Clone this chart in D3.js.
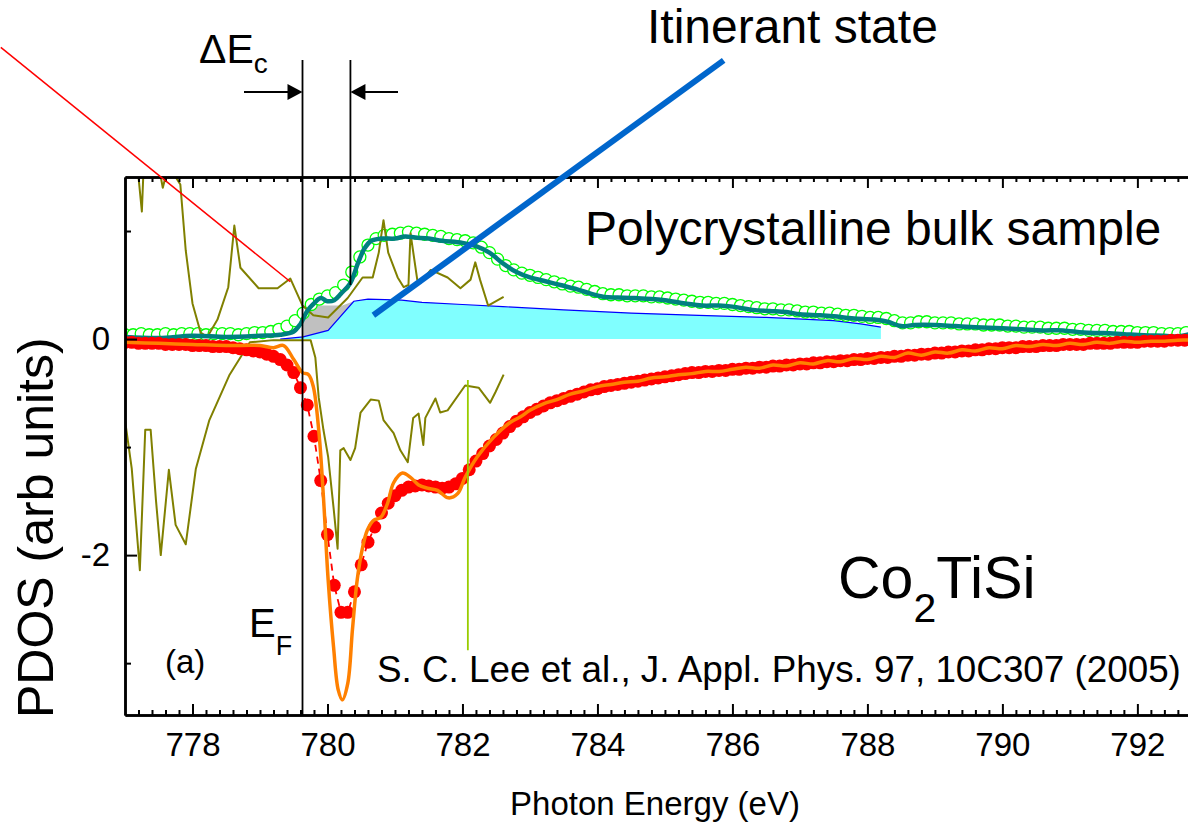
<!DOCTYPE html>
<html>
<head>
<meta charset="utf-8">
<script src="https://cdn.jsdelivr.net/npm/d3@7"></script>
<style>
  body { margin: 0; background: #fff; }
  text { font-family: "Liberation Sans", Arial, Helvetica, sans-serif; fill: #000; }
</style>
</head>
<body>
<svg id="chart" width="1188" height="829"></svg>
<script>
// ---- data (energy in eV, PDOS in arb. units) ----

var xMajor = [778, 780, 782, 784, 786, 788, 790, 792];
var yLabelled = [0, -2];
var yMinor = [1, -1, -3];

var EF = 779.63;      // Fermi edge marker
var EC = 780.34;      // second marker of Delta E_c
var ELINE = 782.08;   // yellow-green marker

// open green circles, sampled every 0.12 eV from 777
var circV = [0.04,0.04,0.05,0.04,0.04,0.05,0.04,0.05,0.05,0.05,
  0.04,0.05,0.05,0.05,0.04,0.05,0.06,0.06,0.07,0.09,
  0.12,0.17,0.24,0.32,0.37,0.40,0.43,0.50,0.62,0.76,
  0.87,0.93,0.96,0.97,0.98,0.99,0.98,0.97,0.96,0.95,
  0.93,0.92,0.91,0.89,0.85,0.80,0.74,0.68,0.64,0.61,
  0.59,0.57,0.55,0.53,0.51,0.49,0.48,0.46,0.44,0.42,
  0.41,0.41,0.40,0.40,0.40,0.39,0.39,0.38,0.37,0.36,
  0.35,0.34,0.34,0.33,0.33,0.32,0.31,0.30,0.29,0.28,
  0.28,0.27,0.27,0.26,0.25,0.25,0.24,0.24,0.23,0.22,
  0.22,0.21,0.20,0.20,0.19,0.17,0.15,0.15,0.16,0.16,
  0.15,0.15,0.15,0.14,0.14,0.14,0.13,0.13,0.13,0.12,
  0.12,0.11,0.11,0.11,0.10,0.10,0.10,0.09,0.09,0.08,
  0.08,0.08,0.07,0.07,0.07,0.06,0.06,0.06,0.05,0.05,
  0.05,0.06];

// teal line through the circles
var tealLine = [[777.0,0.02],[777.5,0.01],[778.0,0.03],[778.5,0.02],[779.0,0.03],[779.3,0.04],
  [779.5,0.07],[779.6,0.14],[779.7,0.26],[779.8,0.33],[779.9,0.38],[780.0,0.35],[780.1,0.36],
  [780.2,0.42],[780.34,0.52],[780.45,0.70],[780.55,0.84],[780.65,0.91],[780.8,0.93],[781.0,0.93],
  [781.15,0.95],[781.3,0.94],[781.5,0.93],[781.7,0.91],[782.0,0.89],[782.2,0.86],[782.4,0.80],
  [782.6,0.70],[782.8,0.62],[783.0,0.57],[783.2,0.54],[783.45,0.50],[783.7,0.46],[783.9,0.42],
  [784.1,0.39],[784.3,0.385],[784.55,0.38],[784.8,0.37],[785.0,0.36],[785.3,0.33],[785.55,0.31],
  [785.8,0.31],[786.0,0.30],[786.3,0.27],[786.55,0.26],[786.8,0.25],[787.0,0.23],[787.3,0.22],
  [787.5,0.21],[787.8,0.19],[788.1,0.18],[788.3,0.16],[788.5,0.12],[788.7,0.13],[789.0,0.13],
  [789.3,0.12],[789.6,0.11],[790.0,0.10],[790.3,0.09],[790.6,0.08],[790.9,0.08],[791.2,0.06],
  [791.5,0.055],[791.8,0.045],[792.1,0.035],[792.4,0.03],[792.6,0.025],[792.8,0.05]];

// filled red dots, sampled every 0.1 eV from 777
var dotV = [-0.03,-0.03,-0.04,-0.04,-0.04,-0.04,-0.05,-0.05,-0.05,-0.05,
  -0.06,-0.06,-0.06,-0.07,-0.07,-0.07,-0.08,-0.09,-0.10,-0.11,
  -0.12,-0.14,-0.16,-0.19,-0.24,-0.31,-0.45,-0.61,-0.90,-1.31,
  -1.81,-2.28,-2.53,-2.53,-2.34,-2.09,-1.88,-1.74,-1.61,-1.52,
  -1.45,-1.40,-1.37,-1.36,-1.35,-1.36,-1.37,-1.38,-1.37,-1.34,
  -1.29,-1.21,-1.13,-1.06,-0.99,-0.93,-0.87,-0.81,-0.76,-0.72,
  -0.68,-0.65,-0.62,-0.59,-0.57,-0.55,-0.53,-0.51,-0.49,-0.47,
  -0.46,-0.44,-0.43,-0.42,-0.41,-0.40,-0.39,-0.38,-0.37,-0.36,
  -0.35,-0.34,-0.33,-0.32,-0.31,-0.31,-0.30,-0.30,-0.29,-0.29,
  -0.28,-0.28,-0.27,-0.27,-0.26,-0.26,-0.25,-0.25,-0.24,-0.24,
  -0.23,-0.23,-0.22,-0.22,-0.21,-0.21,-0.20,-0.20,-0.19,-0.19,
  -0.18,-0.18,-0.17,-0.17,-0.16,-0.16,-0.15,-0.15,-0.14,-0.14,
  -0.13,-0.13,-0.12,-0.12,-0.11,-0.11,-0.10,-0.10,-0.09,-0.09,
  -0.08,-0.08,-0.08,-0.07,-0.07,-0.07,-0.06,-0.06,-0.06,-0.05,
  -0.05,-0.05,-0.05,-0.04,-0.04,-0.04,-0.04,-0.03,-0.03,-0.03,
  -0.03,-0.02,-0.02,-0.02,-0.02,-0.01,-0.01,-0.01,-0.01];

// orange fit through the red dots
var orangeLine = [[777.0,-0.03],[777.5,-0.04],[778.0,-0.05],[778.5,-0.06],[779.0,-0.06],[779.2,-0.08],
  [779.35,-0.06],[779.5,-0.19],[779.63,-0.31],[779.72,-0.33],[779.79,-0.44],[779.87,-0.84],
  [779.94,-1.46],[780.01,-2.23],[780.09,-2.85],[780.16,-3.25],[780.22,-3.34],[780.30,-3.19],
  [780.37,-2.69],[780.44,-2.23],[780.52,-1.93],[780.59,-1.77],[780.68,-1.68],[780.79,-1.65],
  [780.89,-1.52],[780.98,-1.33],[781.11,-1.24],[781.23,-1.28],[781.35,-1.35],[781.48,-1.38],
  [781.63,-1.40],[781.79,-1.47],[781.93,-1.43],[782.04,-1.28],[782.22,-1.09],[782.46,-0.91],
  [782.71,-0.77],[782.86,-0.72],[783.0,-0.66],[783.2,-0.60],[783.4,-0.56],[783.6,-0.51],
  [783.8,-0.48],[784.0,-0.44],[784.2,-0.42],[784.4,-0.40],[784.6,-0.39],[784.8,-0.36],
  [785.0,-0.35],[785.2,-0.33],[785.4,-0.32],[785.6,-0.30],[785.8,-0.30],[786.0,-0.28],
  [786.2,-0.26],[786.4,-0.27],[786.6,-0.24],[786.8,-0.25],[787.0,-0.22],[787.2,-0.23],
  [787.4,-0.20],[787.6,-0.21],[787.8,-0.18],[788.0,-0.19],[788.2,-0.16],[788.4,-0.17],
  [788.6,-0.13],[788.8,-0.15],[789.0,-0.12],[789.2,-0.13],[789.4,-0.10],[789.6,-0.11],
  [789.8,-0.08],[790.0,-0.09],[790.2,-0.06],[790.4,-0.07],[790.6,-0.05],[790.8,-0.06],
  [791.0,-0.04],[791.2,-0.05],[791.4,-0.03],[791.6,-0.04],[791.8,-0.02],[792.0,-0.03],
  [792.2,-0.02],[792.4,-0.02],[792.6,-0.01],[792.8,-0.01]];

// noisy olive traces
var oliveUp = [[777.15,1.62],[777.2,1.5],[777.25,1.18],[777.27,1.5],[777.3,1.62],[777.5,1.6],
  [777.53,1.5],[777.56,1.4],[777.6,1.5],[777.7,1.55],[777.82,1.43],[777.9,0.82],[778.0,0.33],
  [778.12,0.06],[778.22,0.02],[778.37,0.18],[778.53,0.48],[778.62,1.05],[778.71,0.66],
  [778.98,0.47],[779.26,0.47],[779.45,0.56],[779.63,0.31],[779.79,0.22],[780.01,0.20],
  [780.3,0.38],[780.52,0.57],[780.67,0.57],[780.76,0.80],[780.83,1.10],[780.9,0.80],
  [781.04,0.57],[781.13,0.48],[781.2,0.50],[781.23,0.98],[781.33,0.55],[781.38,0.52],
  [781.53,0.64],[781.78,0.57],[781.97,0.47],[782.12,0.55],[782.19,0.71],[782.26,0.55],
  [782.38,0.31],[782.61,0.39]];

var oliveLow = [[777.0,-0.75],[777.1,-1.2],[777.22,-2.14],[777.3,-0.84],[777.38,-0.84],
  [777.46,-1.5],[777.53,-2.0],[777.65,-1.21],[777.75,-1.72],[777.9,-1.9],[778.05,-1.2],
  [778.25,-0.75],[778.55,-0.33],[778.73,-0.15],[778.85,-0.03],[779.2,-0.01],[779.75,-0.01],
  [779.82,-0.17],[779.87,-0.54],[779.94,-0.84],[780.01,-1.09],[780.09,-1.56],[780.15,-1.94],
  [780.19,-1.03],[780.24,-1.01],[780.34,-1.12],[780.41,-1.01],[780.49,-0.68],[780.64,-0.56],
  [780.76,-0.57],[780.83,-0.75],[780.98,-0.87],[781.08,-1.03],[781.19,-1.14],[781.27,-0.73],
  [781.35,-0.69],[781.42,-0.98],[781.45,-0.73],[781.6,-0.55],[781.67,-0.68],[781.78,-0.66],
  [782.04,-0.43],[782.24,-0.45],[782.41,-0.59],[782.49,-0.49],[782.61,-0.33]];

// itinerant background (cyan) and localized part (grey)
var blueEdge = [[779.3,0.0],[779.64,0.02],[780.01,0.08],[780.39,0.35],[780.6,0.37],[781.1,0.36],
  [781.4,0.34],[782.0,0.32],[782.6,0.30],[783.5,0.27],[784.5,0.24],[785.5,0.22],[786.5,0.20],
  [787.5,0.17],[787.9,0.14],[788.2,0.11]];
var greyTop = [[779.64,0.31],[780.22,0.31],[780.39,0.35]];
var greyBottom = [[779.64,0.02],[780.01,0.08],[780.39,0.35]];

// ---- layout ----
var svg = d3.select("#chart");
var L = 125, R = 1188, T = 177, B = 715;

var x = d3.scaleLinear().domain([777, 792.75]).range([L, R]);
var y = d3.scaleLinear().domain([-3.48, 1.5]).range([B, T]);

svg.append("defs").append("clipPath").attr("id", "clip")
  .append("rect").attr("x", L).attr("y", T).attr("width", R - L).attr("height", B - T);

var g = svg.append("g").attr("clip-path", "url(#clip)");

var line = d3.line().x(function(d) { return x(d[0]); }).y(function(d) { return y(d[1]); });
var smooth = d3.line().curve(d3.curveCatmullRom.alpha(0.5))
  .x(function(d) { return x(d[0]); }).y(function(d) { return y(d[1]); });

// cyan area
g.append("path")
  .datum(blueEdge)
  .attr("fill", "#80ffff")
  .attr("d", d3.area().x(function(d) { return x(d[0]); }).y0(y(0)).y1(function(d) { return y(d[1]); }));
g.append("path")
  .datum(greyTop.concat(greyBottom.slice().reverse()))
  .attr("fill", "#c0c0c0")
  .attr("d", function(d) { return line(d) + "Z"; });
g.append("path")
  .datum(blueEdge)
  .attr("fill", "none").attr("stroke", "#0000ff").attr("stroke-width", 1.2)
  .attr("d", line);

// green open circles
var circles = circV.map(function(v, i) { return [777 + 0.12 * i, v]; });
g.selectAll(".circ")
  .data(circles)
  .enter().append("circle")
  .attr("class", "circ")
  .attr("cx", function(d) { return x(d[0]); })
  .attr("cy", function(d) { return y(d[1]); })
  .attr("r", 6)
  .attr("fill", "#fff")
  .attr("stroke", "#00ff00")
  .attr("stroke-width", 1.3);

// olive traces
[oliveUp, oliveLow].forEach(function(tr) {
  g.append("path")
    .datum(tr)
    .attr("fill", "none").attr("stroke", "#808000").attr("stroke-width", 2)
    .attr("stroke-linejoin", "round")
    .attr("d", line);
});

// teal line
g.append("path")
  .datum(tealLine)
  .attr("fill", "none").attr("stroke", "#008080").attr("stroke-width", 4.5)
  .attr("stroke-linejoin", "round")
  .attr("d", smooth);

// red dots + dashed connector
var dots = dotV.map(function(v, i) { return [777 + 0.1 * i, v]; });
g.append("path")
  .datum(dots)
  .attr("fill", "none").attr("stroke", "#ff0000").attr("stroke-width", 1.8)
  .attr("stroke-dasharray", "7,5")
  .attr("d", line);
g.selectAll(".dot")
  .data(dots)
  .enter().append("circle")
  .attr("class", "dot")
  .attr("cx", function(d) { return x(d[0]); })
  .attr("cy", function(d) { return y(d[1]); })
  .attr("r", 6.5)
  .attr("fill", "#ff0000");

// orange fit
g.append("path")
  .datum(orangeLine)
  .attr("fill", "none").attr("stroke", "#ff8000").attr("stroke-width", 3.5)
  .attr("stroke-linejoin", "round")
  .attr("d", smooth);

// yellow-green marker
g.append("line")
  .attr("x1", x(ELINE)).attr("x2", x(ELINE))
  .attr("y1", y(-0.38)).attr("y2", y(-2.88))
  .attr("stroke", "#99cc00").attr("stroke-width", 1.8);

// ---- axes ----
function styleAxis(sel) {
  sel.select(".domain").attr("stroke-width", 2.5);
  sel.selectAll(".tick line").attr("stroke-width", 2);
  sel.selectAll("text").style("font-size", "33px")
    .style("font-family", '"Liberation Sans", Arial, sans-serif').attr("fill", "#000");
}
var xMinor = d3.range(777.2, 792.75, 0.2).filter(function(v) {
  return Math.abs(v / 2 - Math.round(v / 2)) > 0.01;
});

svg.append("g").attr("transform", "translate(0," + B + ")")
  .call(d3.axisBottom(x).tickValues(xMinor).tickSizeInner(-5).tickSizeOuter(0).tickFormat(""))
  .call(styleAxis);
svg.append("g").attr("transform", "translate(0," + B + ")")
  .call(d3.axisBottom(x).tickValues(xMajor).tickSizeInner(-11).tickSizeOuter(0).tickPadding(18))
  .call(styleAxis);
svg.append("g").attr("transform", "translate(0," + T + ")")
  .call(d3.axisTop(x).tickValues(xMinor).tickSizeInner(-5).tickSizeOuter(0).tickFormat(""))
  .call(styleAxis);
svg.append("g").attr("transform", "translate(0," + T + ")")
  .call(d3.axisTop(x).tickValues(xMajor).tickSizeInner(-11).tickSizeOuter(0).tickFormat(""))
  .call(styleAxis);
svg.append("g").attr("transform", "translate(" + L + ",0)")
  .call(d3.axisLeft(y).tickValues(yMinor).tickSizeInner(-6).tickSizeOuter(0).tickFormat(""))
  .call(styleAxis);
svg.append("g").attr("transform", "translate(" + L + ",0)")
  .call(d3.axisLeft(y).tickValues(yLabelled).tickSizeInner(-12).tickSizeOuter(0).tickPadding(15)
    .tickFormat(function(d) { return d === 0 ? "0" : String(d); }))
  .call(styleAxis);

// ---- markers and annotations ----
svg.append("line")
  .attr("x1", x(EF)).attr("x2", x(EF)).attr("y1", 60).attr("y2", B)
  .attr("stroke", "#000").attr("stroke-width", 1.8);
svg.append("line")
  .attr("x1", x(EC)).attr("x2", x(EC)).attr("y1", 60).attr("y2", y(0.5))
  .attr("stroke", "#000").attr("stroke-width", 1.8);

// Delta E_c arrows
var ay = 92;
svg.append("line").attr("x1", 244).attr("x2", x(EF) - 10).attr("y1", ay).attr("y2", ay)
  .attr("stroke", "#000").attr("stroke-width", 2);
svg.append("path")
  .attr("d", "M" + x(EF) + "," + ay + "l-15,-8v16z").attr("fill", "#000");
svg.append("line").attr("x1", x(EC) + 10).attr("x2", 398).attr("y1", ay).attr("y2", ay)
  .attr("stroke", "#000").attr("stroke-width", 2);
svg.append("path")
  .attr("d", "M" + x(EC) + "," + ay + "l15,-8v16z").attr("fill", "#000");

// thin red pointer to the localized state
svg.append("line")
  .attr("x1", x(775.16)).attr("y1", y(2.70))
  .attr("x2", x(779.45)).attr("y2", y(0.53))
  .attr("stroke", "#ff0000").attr("stroke-width", 1.5);

// thick blue pointer to the itinerant state
svg.append("line")
  .attr("x1", x(780.68)).attr("y1", y(0.22))
  .attr("x2", x(785.87)).attr("y2", y(2.58))
  .attr("stroke", "#0066cc").attr("stroke-width", 6);

function label(px, py, size, str) {
  return svg.append("text").attr("x", px).attr("y", py).style("font-size", size + "px").text(str);
}

var dE = svg.append("text").attr("x", 199).attr("y", 63).style("font-size", "41px");
dE.append("tspan").text("\u0394E");
dE.append("tspan").attr("dy", 10).style("font-size", "28px").text("c");

label(647, 43, 48, "Itinerant state");
label(585, 245, 48, "Polycrystalline bulk sample");

var co = svg.append("text").attr("x", 838).attr("y", 598).style("font-size", "59px");
co.append("tspan").text("Co");
co.append("tspan").attr("dy", 24).style("font-size", "41px").text("2");
co.append("tspan").attr("dy", -24).text("TiSi");

var ef = svg.append("text").attr("x", 249).attr("y", 637).style("font-size", "40px");
ef.append("tspan").text("E");
ef.append("tspan").attr("dy", 18).style("font-size", "27px").text("F");

label(165, 673, 33, "(a)");
label(377, 682, 36.8, "S. C. Lee et al., J. Appl. Phys. 97, 10C307 (2005)");

svg.append("text")
  .attr("x", 655).attr("y", 815)
  .attr("text-anchor", "middle")
  .style("font-size", "33px")
  .text("Photon Energy (eV)");

svg.append("text")
  .attr("transform", "translate(53,718) rotate(-90)")
  .attr("text-anchor", "start")
  .style("font-size", "50px")
  .text("PDOS (arb units)");
</script>
</body>
</html>
